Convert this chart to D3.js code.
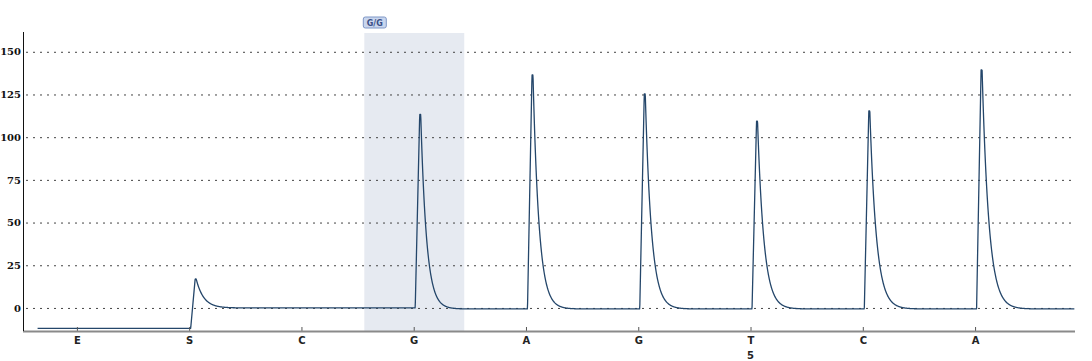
<!DOCTYPE html>
<html>
<head>
<meta charset="utf-8">
<script src="https://cdn.jsdelivr.net/npm/d3@7"></script>
<style>
  body { margin: 0; background: #fff; }
  svg { display: block; }
  .ytick text { font-family: "DejaVu Serif", serif; font-weight: bold; font-size: 10px; fill: #111; }
  .xtick text { font-family: "DejaVu Sans", sans-serif; font-weight: bold; font-size: 10px; fill: #222; }
</style>
</head>
<body>
<div id="chart"></div>
<script>
// dispensation order and peak heights
const DISPENSATIONS = ['E', 'S', 'C', 'G', 'A', 'G', 'T', 'C', 'A'];
const PEAK_HEIGHTS = [0, 17, 0, 114, 137, 126, 110, 116, 140];
// baseline level the trace settles on after each dispensation
const BASELINE_AFTER = [-12, 0, 0, -0.6, -0.6, -0.6, -0.6, -0.6, -0.6];
const Y_TICKS = [0, 25, 50, 75, 100, 125, 150];
const SUB_LABELS = [{ index: 6, text: '5' }];
const VARIANT = { from: 2.56, to: 3.45, label: 'G/G' };

const width = 1092;
const height = 361;
const margin = { top: 33, left: 23, right: 17, bottom: 30 };

const svg = d3.select('#chart').append('svg')
  .attr('width', width)
  .attr('height', height);

const x = d3.scaleLinear()
  .domain([-0.48, 8.89])
  .range([margin.left, width - margin.right]);

const y = d3.scaleLinear()
  .domain([-13.5, 161])
  .range([height - margin.bottom, margin.top]);

// variant highlight
svg.append('rect')
  .attr('x', x(VARIANT.from))
  .attr('y', margin.top)
  .attr('width', x(VARIANT.to) - x(VARIANT.from))
  .attr('height', y.range()[0] - margin.top)
  .attr('fill', '#e6eaf1');

const lab = svg.append('g').attr('transform', `translate(${x(VARIANT.from) - 1},17)`);
lab.append('rect')
  .attr('width', 23).attr('height', 11).attr('rx', 2)
  .attr('fill', '#c9d6ee').attr('stroke', '#7f97c6');
lab.append('text')
  .attr('x', 11.5).attr('y', 8.5)
  .attr('text-anchor', 'middle')
  .style('font-family', 'DejaVu Sans, sans-serif')
  .style('font-size', '8px').style('font-weight', 'bold')
  .attr('fill', '#3a4f86')
  .text(VARIANT.label);

// gridlines + y labels
const yAxis = d3.axisLeft(y)
  .tickValues(Y_TICKS)
  .tickSize(-(width - margin.right - margin.left))
  .tickPadding(2);

const gy = svg.append('g')
  .attr('class', 'ytick')
  .attr('transform', `translate(${margin.left},0)`)
  .call(yAxis);
gy.select('.domain').remove();
gy.selectAll('line')
  .attr('stroke', '#444')
  .attr('stroke-dasharray', '2,5')
  .attr('x1', 3);

// trace: each dispensation gives a fast rise then exponential decay
const px = 1 / (x(1) - x(0));   // one pixel in index units
const RISE0 = 1.5 * px, RISE1 = 6 * px, TOP = 7 * px;
function tau(i) { return (i === 1 ? 7.5 : 5.2 + 0.2 * i) * px; }

function shape(dt, i) {
  if (dt < RISE0) return 0;
  if (dt < RISE1) return (dt - RISE0) / (RISE1 - RISE0);
  if (dt < TOP) return 1;
  return Math.exp(-(dt - TOP) / tau(i));
}
function ramp(dt) {
  if (dt < RISE0) return 0;
  if (dt < RISE1) return (dt - RISE0) / (RISE1 - RISE0);
  return 1;
}

function signal(t) {
  let v = BASELINE_AFTER[0];
  for (let i = 1; i < DISPENSATIONS.length; i++) {
    const dt = t - i;
    v += (BASELINE_AFTER[i] - BASELINE_AFTER[i - 1]) * ramp(dt);
    v += PEAK_HEIGHTS[i] * shape(dt, i);
  }
  return v;
}

const ts = d3.range(-0.35, 8.885, 0.25 * px);
const trace = ts.map(t => [t, signal(t)]);

const line = d3.line()
  .x(d => x(d[0]))
  .y(d => y(d[1]));

svg.append('path')
  .datum(trace)
  .attr('d', line)
  .attr('fill', 'none')
  .attr('stroke', '#24466a')
  .attr('stroke-width', 1.3)
  .attr('stroke-linejoin', 'round');

// x axis with dispensation letters
const xAxis = d3.axisBottom(x)
  .tickValues(d3.range(DISPENSATIONS.length))
  .tickFormat(i => DISPENSATIONS[i])
  .tickSize(4)
  .tickPadding(2);

const gx = svg.append('g')
  .attr('class', 'xtick')
  .attr('transform', `translate(0,${y.range()[0]})`)
  .call(xAxis);
gx.select('.domain').remove();
gx.selectAll('line').attr('y1', -4).attr('y2', 0).attr('stroke', '#555');

svg.append('line')
  .attr('x1', margin.left).attr('x2', width - margin.right)
  .attr('y1', y.range()[0] + 0.5).attr('y2', y.range()[0] + 0.5)
  .attr('stroke', '#8a8a8a').attr('stroke-width', 2);

svg.selectAll('.sublabel')
  .data(SUB_LABELS)
  .join('text')
  .attr('class', 'sublabel')
  .attr('x', d => x(d.index))
  .attr('y', y.range()[0] + 28)
  .attr('text-anchor', 'middle')
  .style('font-family', 'DejaVu Sans, sans-serif')
  .style('font-size', '10px').style('font-weight', 'bold')
  .attr('fill', '#222')
  .text(d => d.text);

// left axis line
svg.append('line')
  .attr('x1', margin.left + 0.5).attr('x2', margin.left + 0.5)
  .attr('y1', margin.top - 1).attr('y2', y.range()[0])
  .attr('stroke', '#111');
</script>
</body>
</html>
